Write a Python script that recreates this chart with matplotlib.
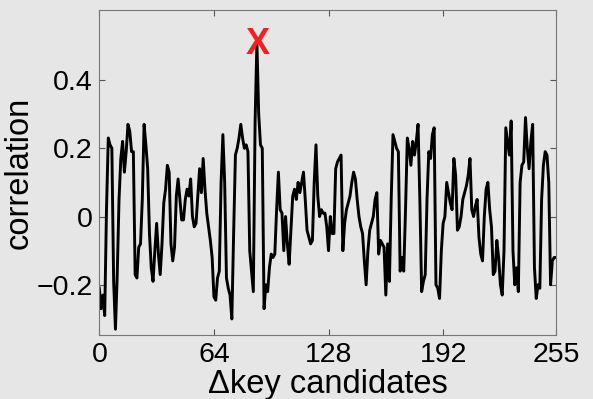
import numpy as np
import matplotlib
matplotlib.use("Agg")
import matplotlib.pyplot as plt

# データ (読み取り値)
key_idx = np.arange(256)
corr = [
    -0.21, -0.27, -0.23, -0.29, 0.02, 0.23, 0.21, 0.20, -0.19, -0.33,
    -0.17, 0.05, 0.17, 0.22, 0.13, 0.19, 0.27, 0.25, 0.19, 0.19,
    -0.17, -0.18, -0.09, -0.08, 0.05, 0.27, 0.21, 0.14, -0.05, -0.15,
    -0.19, -0.10, -0.02, -0.11, -0.17, -0.08, 0.04, 0.08, 0.15, 0.13,
    -0.08, -0.13, -0.09, 0.06, 0.11, 0.05, -0.01, -0.01, 0.05, 0.08,
    0.06, 0.11, 0.00, -0.03, -0.02, 0.06, 0.14, 0.07, 0.17, 0.08,
    0.01, -0.03, -0.07, -0.12, -0.235, -0.245, -0.18, -0.16, 0.10, 0.24,
    0.10, -0.18, -0.21, -0.23, -0.30, -0.05, 0.18, 0.20, 0.23, 0.27,
    0.23, 0.20, 0.21, 0.19, -0.10, -0.16, -0.22, 0.28, 0.51, 0.30,
    0.21, 0.20, -0.27, -0.20, -0.22, -0.15, -0.11, -0.12, -0.11, 0.02,
    0.13, 0.02, 0.01, -0.10, 0.00, -0.08, -0.14, -0.04, 0.06, 0.08,
    0.05, 0.10, 0.07, 0.10, 0.13, 0.05, -0.04, -0.06, -0.08, -0.07,
    0.10, 0.21, 0.06, 0.00, 0.02, 0.01, 0.01, -0.03, -0.10, 0.00,
    -0.05, -0.05, 0.14, 0.16, 0.17, 0.18, -0.10, -0.02, 0.02, 0.04,
    0.06, 0.10, 0.13, 0.11, 0.05, 0.00, -0.03, -0.05, -0.13, -0.20,
    -0.10, -0.04, -0.02, 0.00, 0.05, 0.07, -0.11, -0.07, -0.08, -0.09,
    -0.23, -0.08, -0.19, 0.05, 0.24, 0.22, 0.20, 0.19, -0.16, -0.12,
    -0.16, 0.02, 0.23, 0.20, 0.15, 0.22, 0.18, 0.22, 0.27, 0.05,
    -0.22, -0.19, -0.17, 0.05, 0.19, 0.17, 0.24, 0.26, -0.20, -0.21,
    -0.24, -0.10, -0.02, 0.00, 0.10, 0.07, 0.04, 0.02, 0.17, 0.12,
    -0.04, -0.03, 0.00, 0.05, 0.07, 0.09, 0.12, 0.17, 0.02, 0.00,
    0.03, 0.05, -0.06, -0.11, -0.13, 0.00, 0.08, 0.10, 0.02, -0.03,
    -0.17, -0.16, -0.07, -0.12, -0.20, -0.23, -0.10, 0.26, 0.22, 0.18,
    0.28, -0.10, -0.20, -0.15, -0.22, 0.10, 0.15, 0.16, 0.29, 0.20,
    0.14, 0.22, 0.27, -0.15, -0.24, -0.20, -0.21, 0.05, 0.15, 0.19,
    0.18, 0.10, -0.20, -0.13, -0.12, -0.12,
]
x_ticks = [0, 64, 128, 192, 255]
y_ticks = [-0.2, 0, 0.2, 0.4]
y_ticklabels = ["\u22120.2", "0", "0.2", "0.4"]

plt.rcParams['font.family'] = ['Liberation Sans', 'DejaVu Sans']
plt.rcParams['xtick.direction'] = 'in'
plt.rcParams['ytick.direction'] = 'in'

bg = '#e6e6e6'
fig = plt.figure(figsize=(5.93, 3.99), dpi=100, facecolor=bg)
ax = fig.add_axes([0.1675, 0.1604, 0.770, 0.8146], facecolor=bg)

ax.plot(key_idx, corr, color='black', lw=2.1)

# 最大値に赤いX
peak = int(np.argmax(corr))
ax.text(key_idx[peak] + 0.5, corr[peak] - 0.005, "X", color='#ee2222',
        fontsize=26, fontweight='bold', ha='center', va='center')

ax.set_xlim(0, 255)
ax.set_ylim(-0.347, 0.605)
ax.set_xticks(x_ticks)
ax.set_xticklabels([str(t) for t in x_ticks])
ax.set_yticks(y_ticks)
ax.set_yticklabels(y_ticklabels)
ax.tick_params(axis='both', labelsize=20.5, length=4, width=0.8,
               color='#555555', top=True, right=True, pad=5)
for s in ax.spines.values():
    s.set_color('#777777')
    s.set_linewidth(0.8)

ax.set_xlabel("\u0394key candidates", fontsize=23.5, labelpad=1)
ax.set_ylabel("correlation", fontsize=23.5, labelpad=1)

fig.savefig("out.png", dpi=100, facecolor=bg)
